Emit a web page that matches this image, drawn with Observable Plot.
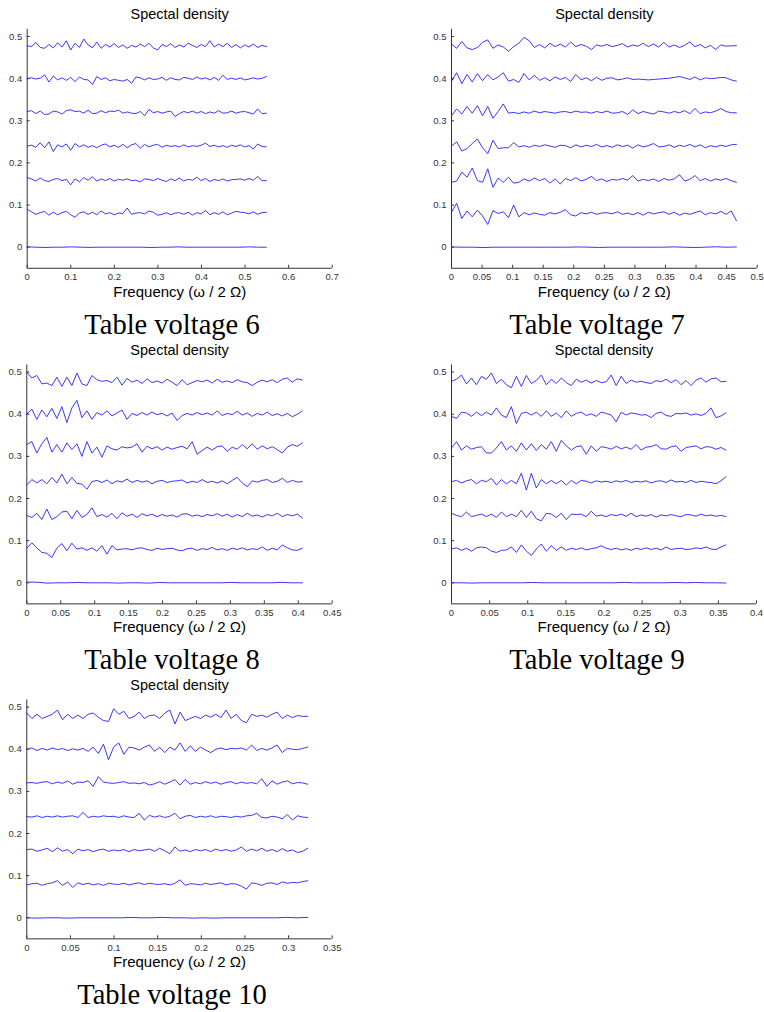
<!DOCTYPE html>
<html><head><meta charset="utf-8">
<script src="https://cdn.jsdelivr.net/npm/d3@7"></script>
<script src="https://cdn.jsdelivr.net/npm/@observablehq/plot@0.6"></script>
<style>
body{margin:0;background:#fff;}
#root{position:relative;width:764px;height:1012px;overflow:hidden;background:#fff;}
.panel{position:absolute;}
.cap{position:absolute;font-family:"Liberation Serif","Times New Roman",serif;font-size:28.5px;color:#000;white-space:nowrap;transform:translate(-50%,-50%);}
</style></head><body><div id="root"></div>
<script>
// ---- data (deviations from each line's level, in units of 0.001) ----
const voltages = [6, 7, 8, 9, 10];
const freqMax = [0.549, 0.466, 0.406, 0.360, 0.322];
const levels = [0, 0.08, 0.16, 0.24, 0.32, 0.40, 0.478];
const yTicks = [0, 0.1, 0.2, 0.3, 0.4, 0.5];
const xTicks6 = [0, 0.1, 0.2, 0.3, 0.4, 0.5, 0.6, 0.7];
const xTicks7 = [0, 0.05, 0.1, 0.15, 0.2, 0.25, 0.3, 0.35, 0.4, 0.45, 0.5];
const xTicks8 = [0, 0.05, 0.1, 0.15, 0.2, 0.25, 0.3, 0.35, 0.4, 0.45];
const xTicks9 = [0, 0.05, 0.1, 0.15, 0.2, 0.25, 0.3, 0.35, 0.4];
const xTicks10 = [0, 0.05, 0.1, 0.15, 0.2, 0.25, 0.3, 0.35];

// voltage 6
const v6_000 = [1,0,-0.7,0,0,0.8,0,-0.5,0,0,0,0,0,0,-0.8,0,0,0.8,0,0,0,0,0,0,0,0.8,0,0];
const v6_008 = [10,4,-2,2,5,-4,3,-3,2,5,-3,-9,1,4,-2,3,-3,6,-1,2,-3,1,0,13,-2,1,2,-1,6,3,-4,-2,2,-3,1,2,-2,3,-4,2,-1,7,-3,2,-2,4,-3,1,5,3,2,-1,4,-2,2,3];
const v6_016 = [5,2,-3,4,-2,-4,1,3,-2,1,-12,2,-5,5,-1,7,-3,2,-2,3,-3,1,-1,2,-2,-1,-5,2,1,-2,3,-1,-4,2,-2,4,-3,1,-1,6,-2,3,-4,1,-2,2,-3,0,1,2,-1,3,-1,8,-2,-2];
const v6_024 = [0,2,-3,8,-4,10,-13,3,-2,5,-10,6,-2,3,-3,1,-4,2,5,-2,2,-3,4,-4,3,6,-5,4,-2,2,4,-3,2,-1,1,-2,3,-2,1,-1,2,7,-1,2,-2,1,-3,2,-1,3,-2,1,-7,5,-1,-2];
const v6_032 = [2,4,-3,3,-5,-4,3,1,-4,4,6,2,3,-2,5,-3,-2,4,-1,3,2,5,-2,1,-2,-3,2,-8,7,-1,2,-2,1,3,-10,-3,2,-1,3,-2,2,-3,1,-2,4,-2,-1,3,-2,1,2,-1,-4,8,-3,-2];
const v6_040 = [0,2,-1,1,9,-8,6,-3,2,-4,3,-7,4,-2,-3,-14,5,-2,2,-5,-2,-4,-6,-2,-11,4,2,-3,2,-2,-1,3,-4,2,-2,-3,3,1,-2,4,-1,2,-3,3,-4,8,-2,1,-2,2,-3,-1,2,-1,1,5];
const v6_048 = [0,-2,8,-4,-6,3,-5,7,-3,12,-10,6,-4,16,2,-5,9,-6,3,-3,5,-4,2,-6,1,-3,4,-2,6,-5,-10,3,-2,5,-4,2,-3,6,1,-4,3,-2,12,-3,4,-2,6,-4,3,-5,2,-3,4,-4,1,-2];

// voltage 7
const v7_000 = [0.5,0,0,-0.8,0,0,0,0,0,0,0,0,0.6,0,-0.6,0,0,0,0,0,0,0.7,0,-0.8,0,1,0,0.5];
const v7_008 = [3,24,-12,6,-8,8,-6,-26,7,0,4,-10,20,-8,2,-3,1,-2,-4,2,-1,3,9,-3,-6,2,-1,3,-2,1,2,-1,4,-2,1,-3,2,-4,3,-1,2,4,-2,3,-4,1,-2,2,6,-3,2,-1,5,-2,6,-17];
const v7_016 = [-6,-3,18,6,28,-2,-6,26,-18,4,-6,6,-8,-6,2,-3,4,-2,3,-8,2,-10,3,-2,5,-3,1,8,-2,2,-4,1,-1,3,-1,10,-3,1,-2,2,-4,3,-1,2,12,-3,1,10,-2,3,-3,2,-1,3,-2,-6];
const v7_024 = [0,10,-12,-6,6,17,-4,-18,14,-6,-4,-4,8,-2,1,-3,2,-1,3,0,-3,2,1,-4,3,-2,2,-1,4,-2,1,-3,3,-1,2,-5,3,-2,1,6,-2,-1,3,-3,2,-1,4,-2,3,-4,1,-2,2,-1,3,4];
const v7_032 = [-8,8,-4,14,-2,16,-8,14,-14,2,20,-2,0,-3,1,-2,3,-1,2,0,-2,1,2,-1,3,0,1,-2,2,-1,3,-2,-1,2,-5,6,-3,2,-1,-4,3,1,-2,2,-1,4,-3,9,-3,1,-1,3,9,2,-1,-1];
const v7_040 = [-6,14,-12,10,-8,12,-5,10,-3,4,14,-6,-2,-9,12,-3,8,-4,2,-5,4,-2,3,-7,10,-3,2,-5,3,-4,1,2,-3,-1,2,-2,-1,-2,-3,-2,-1,0,1,3,5,2,-2,4,-3,2,0,1,3,2,-3,-6];
const v7_048 = [4,-6,10,-5,-9,-4,8,14,-6,2,-3,-13,-2,6,20,12,-4,3,-5,6,-2,4,-3,9,-2,3,-1,-9,2,-1,3,-2,1,5,-3,2,-1,6,-2,4,-3,8,-3,2,-4,1,9,-2,3,-5,1,-9,2,-1,0,0];

// voltage 8
const v8_000 = [1.5,1.5,-0.8,0,0,0.8,0,0,0,-0.7,0,0,-0.8,0.8,0,0,0,0,0,0,0.8,0,0,0,0,1,0,0];
const v8_008 = [2,15,3,-8,-10,-20,2,13,-4,14,0,3,-3,3,-5,8,-12,8,-2,0,1,-2,2,3,-1,-3,2,-1,1,2,-2,-4,1,2,-3,1,-1,4,-2,1,-3,2,-1,3,-2,1,-1,5,-3,2,-2,10,3,-2,-3,2];
const v8_016 = [0,-5,5,-10,15,-10,-3,8,10,-8,12,-5,2,18,-3,2,-4,5,-8,6,-2,3,-5,4,-1,3,-3,2,-2,1,-4,3,4,-2,1,-3,2,-1,4,-2,3,-4,2,-3,5,-2,1,-4,2,-1,5,-3,2,-1,3,-6];
const v8_024 = [-8,5,-3,5,-5,10,-3,18,-5,10,-4,-6,-18,0,3,-2,4,-5,2,-1,6,-2,3,-1,2,-5,1,3,-2,1,2,4,-3,1,-2,5,-2,1,-3,2,-5,3,10,-3,-12,2,-1,3,5,-2,1,8,-2,3,-1,0];
const v8_032 = [8,15,-12,10,25,-10,8,-10,12,-4,10,-20,15,-12,2,-22,5,-2,-5,3,0,2,10,-10,4,-2,3,-5,2,-3,1,4,-2,15,-15,-6,2,-5,3,5,-8,2,-3,8,-2,10,-3,5,-2,3,-4,-12,2,8,4,12];
const v8_040 = [0,12,-12,10,-6,14,-10,18,-20,15,33,-8,8,-12,4,-2,8,-4,3,10,-12,2,-3,4,-2,5,-1,2,-4,3,-15,-3,2,-2,4,-1,3,-2,8,-3,2,-1,7,-2,3,-5,2,-2,5,-3,1,-4,2,-6,0,8];
const v8_048 = [22,8,14,-6,-4,-10,10,-12,10,-10,20,-6,-10,14,4,0,2,-3,10,-9,7,-2,3,-5,6,-3,1,-4,5,-2,-10,4,-8,-3,2,-1,3,-4,5,-2,1,-3,4,-1,-3,-10,-2,3,-1,4,-3,5,8,-2,6,3];

// voltage 9
const v9_000 = [0,0,-0.7,0,0,0,0,0,0.8,0,0,0,0,0,0,0,0,1,0,0,0,0,0.8,0,0.8,0,0,-0.5];
const v9_008 = [0,3,-3,2,-5,3,5,3,-5,-8,-3,-2,5,-8,10,-5,-15,0,12,-5,8,-3,5,-3,2,-1,3,-2,1,3,8,2,-1,2,-2,1,-3,2,-1,3,-1,2,-2,5,-1,1,2,-1,0,3,1,5,0,-1,5,10];
const v9_016 = [5,0,-3,8,-3,0,3,-3,3,-5,8,-3,3,-3,12,-5,10,-8,-13,5,3,-5,5,-10,3,2,3,-3,10,-2,1,-3,2,-1,3,-2,5,-3,1,-2,2,-4,1,-1,2,-1,-3,2,1,-2,3,-1,1,-2,0,-3];
const v9_024 = [0,3,-3,2,5,-5,3,0,8,-8,5,-5,3,-5,20,-20,20,-15,5,-5,3,-5,3,-8,3,-5,3,1,-3,2,-1,1,-2,2,-1,3,-2,1,-1,2,-3,1,2,-2,4,-1,1,-2,3,-2,1,-1,-2,-5,2,12];
const v9_032 = [0,15,-5,5,-3,1,3,-12,-12,0,15,-5,5,-8,12,-5,10,-6,8,-3,15,-8,18,5,-5,3,5,-15,5,-8,3,1,-3,4,-2,2,-3,8,-5,2,3,8,-2,-3,3,5,-8,1,3,5,-2,3,2,-3,1,-5];
const v9_040 = [-5,-10,5,3,-5,5,-3,5,-2,15,-2,-8,18,-22,2,5,-2,5,-5,8,-5,3,-8,8,-5,2,5,-3,1,-5,5,2,-2,-18,5,-2,3,1,-2,-1,-8,2,5,-3,-5,2,1,3,-2,1,-3,2,15,-8,-4,3];
const v9_048 = [0,5,15,-6,8,-8,12,5,20,-5,5,-8,-15,12,-12,14,-5,2,15,-8,5,-5,8,-3,-10,5,-2,3,-4,2,-3,-1,15,-10,12,-5,3,-2,0,-3,-5,2,-1,5,-3,4,-8,2,-10,3,8,-2,6,8,-1,0];

// voltage 10
const v10_000 = [0,-0.7,0,0,-0.7,0,0,0,0,0,0.8,0,0,1,0,0,-0.7,0,-0.7,0,0,0,0,0,0,1,0,1];
const v10_008 = [-2,1,2,-3,1,3,8,-3,5,-8,3,-1,2,-2,1,-3,2,0,-1,2,-2,1,3,-1,2,0,-1,1,-2,2,10,-3,1,0,-2,2,-1,1,3,-2,1,0,-5,-12,3,1,-3,2,3,-1,5,2,4,3,6,8];
const v10_016 = [2,3,-2,1,5,-3,6,-2,2,-8,3,-1,2,-3,1,3,-2,1,-1,2,-3,2,-1,1,3,-2,5,-1,-8,8,-2,1,-3,2,-1,2,-3,3,-1,2,-2,1,8,-2,3,-1,5,-2,2,-3,4,-2,1,-5,-2,5];
const v10_024 = [0,-1,2,-2,1,-1,2,-1,1,2,-2,10,-2,1,-1,2,0,1,-2,2,-1,-2,8,-8,3,-1,2,-2,1,8,-5,1,3,-2,1,-1,2,-2,1,0,-2,1,-1,2,3,8,-2,-3,1,-1,-5,5,-8,2,-1,-2];
const v10_032 = [0,1,-1,2,3,-2,2,-1,5,-3,2,1,5,-8,15,2,0,-1,1,3,-1,0,-2,1,-5,-2,3,-3,2,8,-5,8,-3,1,-2,3,-1,2,-3,1,3,-2,2,-1,1,-2,10,-8,5,-3,2,5,-2,1,0,-3];
const v10_040 = [0,3,-3,2,-2,3,-1,2,-3,1,-2,2,-5,5,-10,12,-25,5,15,-12,5,3,-2,5,10,-5,5,-8,5,-2,15,-5,8,-5,5,-2,-8,0,3,-1,2,1,3,-2,10,-3,2,-2,3,10,-8,2,0,-1,2,5];
const v10_048 = [8,-5,5,-5,0,5,15,-8,5,-5,3,-5,5,8,-2,-10,-12,18,5,12,-5,0,10,-5,2,3,-5,8,15,-18,10,-10,-5,0,-5,3,-2,5,-3,15,-5,5,-10,-15,5,0,3,-2,5,10,-5,3,-3,2,0,0];

const seriesByVoltage = [
  [v6_000, v6_008, v6_016, v6_024, v6_032, v6_040, v6_048],
  [v7_000, v7_008, v7_016, v7_024, v7_032, v7_040, v7_048],
  [v8_000, v8_008, v8_016, v8_024, v8_032, v8_040, v8_048],
  [v9_000, v9_008, v9_016, v9_024, v9_032, v9_040, v9_048],
  [v10_000, v10_008, v10_016, v10_024, v10_032, v10_040, v10_048]
];
const xTicksByVoltage = [xTicks6, xTicks7, xTicks8, xTicks9, xTicks10];

// ---- layout ----
const layout = [
  {left: 0,   top: 0,   x0: 26.7, xEnd: 331.7, y0: 246.7, capX: 172},
  {left: 420, top: 0,   x0: 451,  xEnd: 756.7, y0: 246.7, capX: 597},
  {left: 0,   top: 336, x0: 26.3, xEnd: 331.7, y0: 582.3, capX: 172},
  {left: 420, top: 336, x0: 451,  xEnd: 756,   y0: 582.3, capX: 597},
  {left: 0,   top: 671, x0: 26.3, xEnd: 331.7, y0: 917.3, capX: 172}
];
const yMin = -0.05, yMax = 0.517, ky = 421.4;
const root = document.getElementById("root");
const sans = "'Liberation Sans', Arial, sans-serif";

voltages.forEach((volt, p) => {
  const L = layout[p];
  const xTicks = xTicksByVoltage[p];
  const W = 344, H = 305;
  const yTopPx = L.y0 - yMax * ky, yBotPx = L.y0 - yMin * ky;
  const plotH = yBotPx - yTopPx, plotW = L.xEnd - L.x0;
  const rows = [];
  seriesByVoltage[p].forEach((arr, k) => {
    const n = arr.length;
    arr.forEach((v, i) => rows.push({series: k, f: i * freqMax[p] / (n - 1), s: levels[k] + v / 1000}));
  });
  const chart = Plot.plot({
    width: W, height: H,
    marginLeft: L.x0 - L.left,
    marginRight: L.left + W - L.xEnd,
    marginTop: yTopPx - L.top,
    marginBottom: L.top + H - yBotPx,
    x: {domain: [0, xTicks[xTicks.length - 1]]},
    y: {domain: [yMin, yMax]},
    style: {fontFamily: sans, fontSize: "9.5px", color: "#333", background: "transparent", overflow: "visible"},
    marks: [
      Plot.axisX({ticks: xTicks, tickSize: 0, tickPadding: 5, tickFormat: d => String(d), label: null}),
      Plot.axisY({ticks: yTicks, tickSize: 0, tickPadding: 5, tickFormat: d => String(d), label: null}),
      Plot.tickX(xTicks, {x: d => d, insetTop: plotH - 3, stroke: "#333"}),
      Plot.tickY(yTicks, {y: d => d, insetRight: plotW - 3, stroke: "#333"}),
      Plot.ruleX([0], {stroke: "#333"}),
      Plot.ruleY([yMin], {stroke: "#333"}),
      Plot.line(rows, {x: "f", y: "s", z: "series", stroke: "#2020ff", strokeWidth: 0.9}),
      Plot.text(["Spectal density"], {frameAnchor: "top", lineAnchor: "middle", dy: (L.y0 - 232.7) - yTopPx, fill: "#000", fontSize: 14.5, fontFamily: sans}),
      Plot.text(["Frequency (ω / 2 Ω)"], {frameAnchor: "bottom", lineAnchor: "middle", dy: (L.y0 + 44.5) - yBotPx, fill: "#000", fontSize: 15, fontFamily: sans})
    ]
  });
  const wrap = document.createElement("div");
  wrap.className = "panel";
  wrap.style.left = L.left + "px";
  wrap.style.top = L.top + "px";
  wrap.appendChild(chart);
  root.appendChild(wrap);
  const cap = document.createElement("div");
  cap.className = "cap";
  cap.style.left = L.capX + "px";
  cap.style.top = (L.y0 + 78) + "px";
  cap.textContent = "Table voltage " + volt;
  root.appendChild(cap);
});
</script>
</body></html>
